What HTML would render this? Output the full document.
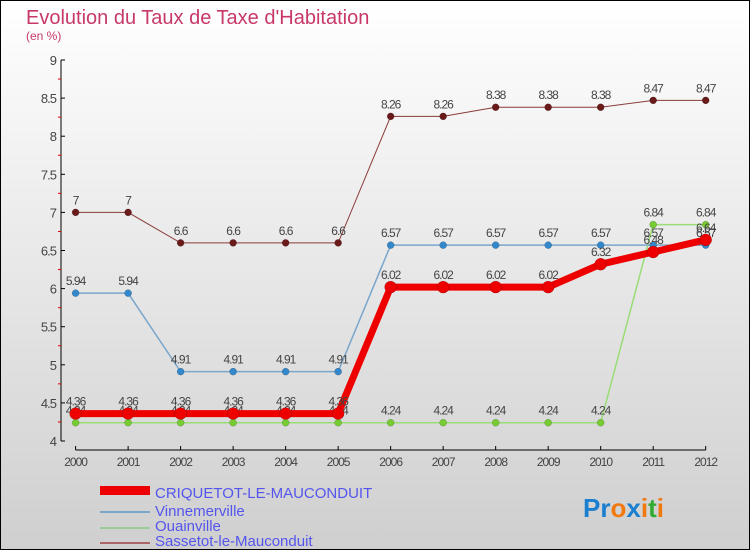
<!DOCTYPE html>
<html><head><meta charset="utf-8"><style>
body{margin:0}
#c{width:750px;height:550px;position:relative;box-sizing:border-box;border:1px solid #000;background:linear-gradient(#fff,#cfcfcf);font-family:"Liberation Sans",sans-serif;overflow:hidden}
</style></head><body>
<div id="c">
<svg id="s" width="750" height="550" style="position:absolute;left:-1px;top:-1px">
<text x="26" y="24" font-size="20" fill="#c8386a">Evolution du Taux de Taxe d'Habitation</text>
<text x="26" y="40" font-size="12" fill="#c8386a">(en %)</text>
<g id="g"></g>
<g>
<rect x="100" y="486" width="50" height="9" fill="#e00"/>
<text x="155" y="498" font-size="15" fill="#55e">CRIQUETOT-LE-MAUCONDUIT</text>
<rect x="100" y="511" width="50" height="2" fill="#7aa6cc"/>
<text x="155" y="516" font-size="15" fill="#55e">Vinnemerville</text>
<rect x="100" y="527" width="50" height="2" fill="#9c9"/>
<text x="155" y="531" font-size="15" fill="#55e">Ouainville</text>
<rect x="100" y="542" width="50" height="2" fill="#a66"/>
<text x="155" y="546" font-size="15" fill="#55e">Sassetot-le-Mauconduit</text>
</g>
<text x="583" y="517" font-size="26" font-weight="bold"><tspan fill="#1a7fd0">Pr</tspan><tspan fill="#f07a10">o</tspan><tspan fill="#1a7fd0">x</tspan><tspan fill="#f07a10">i</tspan><tspan fill="#3a3">t</tspan><tspan fill="#f07a10">i</tspan></text>
</svg></div>
<script>
const years=[2000,2001,2002,2003,2004,2005,2006,2007,2008,2009,2010,2011,2012];
const criquetot=[4.36,4.36,4.36,4.36,4.36,4.36,6.02,6.02,6.02,6.02,6.32,6.48,6.64];
const vinnemerville=[5.94,5.94,4.91,4.91,4.91,4.91,6.57,6.57,6.57,6.57,6.57,6.57,6.57];
const ouainville=[4.24,4.24,4.24,4.24,4.24,4.24,4.24,4.24,4.24,4.24,4.24,6.84,6.84];
const sassetot=[7,7,6.6,6.6,6.6,6.6,8.26,8.26,8.38,8.38,8.38,8.47,8.47];
const yTicks=["4","4.5","5","5.5","6","6.5","7","7.5","8","8.5","9"];
const NS="http://www.w3.org/2000/svg",g=document.getElementById('g');
const X=i=>75.6+i*(705.7-75.6)/12, Y=v=>441-(v-4)*76.2;
function el(t,a,n){const e=document.createElementNS(NS,t);for(const k in a)e.setAttribute(k,a[k]);


g.appendChild(e);return e;}
el('line',{x1:61,y1:Y(9),x2:61,y2:441,stroke:'#000'},'y-axis');
yTicks.forEach((t,i)=>{const v=parseFloat(t),y=Y(v);
el('line',{x1:61,x2:65,y1:y,y2:y,stroke:'#000'},'y-tick');
el('line',{x1:58,x2:61,y1:Y(v+0.25),y2:Y(v+0.25),stroke:i<10?'#d00':'none'},'y-minor-tick');
const tx=el('text',{x:56,y:y+5,'font-size':13,fill:'#444','text-anchor':'end','letter-spacing':'-1'},'y-tick-label');tx.textContent=t;});
el('line',{x1:75.6,y1:450,x2:705.7,y2:450,stroke:'#000'},'x-axis');
years.forEach((yr,i)=>{el('line',{x1:X(i),x2:X(i),y1:446,y2:450,stroke:'#000'},'x-tick');
const tx=el('text',{x:X(i),y:466,'font-size':12,fill:'#444','text-anchor':'middle','letter-spacing':'-1'},'x-tick-label');tx.textContent=yr;});
function series(d,col,dot,w,r,n){
el('polyline',{points:d.map((v,i)=>X(i)+','+Y(v)).join(' '),fill:'none',stroke:col,'stroke-width':w},n+'-line');
d.forEach((v,i)=>{el('circle',{cx:X(i),cy:Y(v),r:r,fill:dot,stroke:'rgba(0,0,0,0.3)','stroke-width':0.5},n+'-point');
const t=el('text',{x:X(i),y:Y(v)-8,'font-size':12,fill:'#444','text-anchor':'middle','letter-spacing':'-1'},n+'-value-label');t.textContent=v;});}
series(sassetot,'#8b3a3a','#6b1a1a',1,3.5,'sassetot');
series(ouainville,'#99dd77','#77cc33',1.5,3.5,'ouainville');
series(vinnemerville,'#7aa6cc','#3388cc',1.5,3.5,'vinnemerville');
series(criquetot,'#ee0000','#ee0000',7,6,'criquetot');
</script></body></html>
